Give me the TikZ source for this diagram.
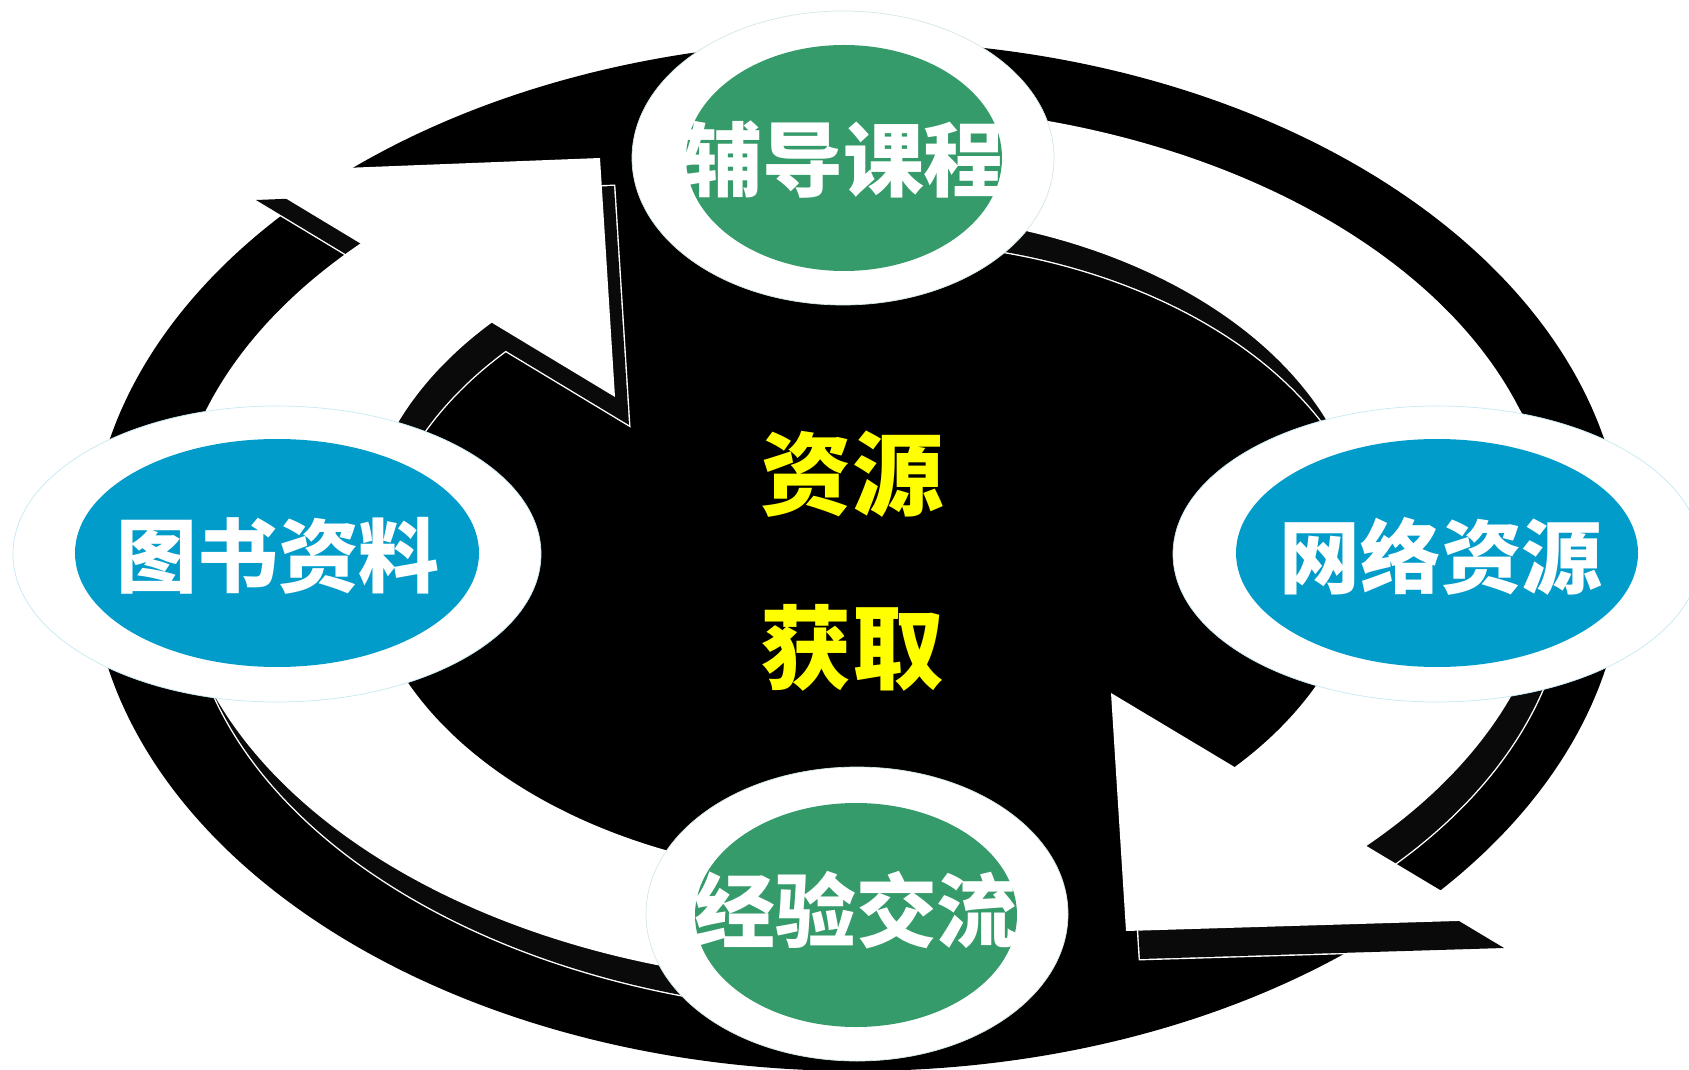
\documentclass[tikz,border=0pt]{standalone}
\usepackage{fontspec}
\newfontfamily\cjk{Noto Sans CJK SC}
\definecolor{ngreen}{HTML}{369B6A}
\definecolor{nblue}{HTML}{029CCB}
\definecolor{shade}{HTML}{0A0A0A}
\definecolor{tyellow}{HTML}{FFFF00}
\tikzset{
  shadowline/.style={draw=white, line width=1.6pt},
  shadowfill/.style={fill=shade},
  outerwhite/.style={fill=white, draw=#1!22, line width=0.4pt},
  innerfill/.style={fill=#1},
  nodetext/.style={font=\cjk\bfseries\fontsize{46}{50}\selectfont, text=white, inner sep=0pt},
  centertext/.style={font=\cjk\bfseries\fontsize{52}{56}\selectfont, text=tyellow, inner sep=0pt}
}
\begin{document}
\begin{tikzpicture}[x=0.02cm,y=-0.02cm]
\useasboundingbox (0,0) rectangle (1689,1070);
\fill[white] (0,0) rectangle (1689,1070);
% big black ellipse
\fill[black] (857,556) ellipse [x radius=767, y radius=515];

% ---- shadows of the two circular arrows ----
\begin{scope}[shift={(14,28)}]
  % outlines
  \begin{scope}
    \clip (863,545) -- (-397,-207) -- (-397,1600) -- (863,1600) -- cycle;
    \draw[shadowline] (863,545) ellipse [x radius=690, y radius=440];
    \draw[shadowline] (863,545) ellipse [x radius=500, y radius=332];
  \end{scope}
  \draw[shadowline] (600,158) -- (242,172) -- (615,397) -- cycle;
  \begin{scope}
    \clip (863,545) -- (2123,1297) -- (2123,-600) -- (863,-600) -- cycle;
    \draw[shadowline] (863,545) ellipse [x radius=690, y radius=440];
    \draw[shadowline] (863,545) ellipse [x radius=500, y radius=332];
  \end{scope}
  \draw[shadowline] (1126,931) -- (1490,920) -- (1111,693) -- cycle;
  % fills (ring slightly overlapping the heads to avoid seams)
  \begin{scope}
    \clip (864.5,542.4) -- (-395.5,-209.6) -- (-397,1600) -- (863,1600) -- cycle;
    \fill[shadowfill, even odd rule] (863,545) ellipse [x radius=690, y radius=440]
      (863,545) ellipse [x radius=500, y radius=332];
  \end{scope}
  \fill[shadowfill] (600,158) -- (242,172) -- (615,397) -- cycle;
  \begin{scope}
    \clip (861.5,547.6) -- (2121.5,1299.6) -- (2123,-600) -- (863,-600) -- cycle;
    \fill[shadowfill, even odd rule] (863,545) ellipse [x radius=690, y radius=440]
      (863,545) ellipse [x radius=500, y radius=332];
  \end{scope}
  \fill[shadowfill] (1126,931) -- (1490,920) -- (1111,693) -- cycle;
\end{scope}

% ---- white circular arrows ----
\begin{scope}
  \clip (864.5,542.4) -- (-395.5,-209.6) -- (-397,1600) -- (863,1600) -- cycle;
  \fill[white, even odd rule] (863,545) ellipse [x radius=690, y radius=440]
    (863,545) ellipse [x radius=500, y radius=332];
\end{scope}
\fill[white] (600,158) -- (242,172) -- (615,397) -- cycle;
\begin{scope}
  \clip (861.5,547.6) -- (2121.5,1299.6) -- (2123,-600) -- (863,-600) -- cycle;
  \fill[white, even odd rule] (863,545) ellipse [x radius=690, y radius=440]
    (863,545) ellipse [x radius=500, y radius=332];
\end{scope}
\fill[white] (1126,931) -- (1490,920) -- (1111,693) -- cycle;

% ---- four nodes ----
\path[outerwhite=ngreen] (843,158) ellipse [x radius=211, y radius=147];
\path[innerfill=ngreen] (844,158) ellipse [x radius=158, y radius=113];
\path[outerwhite=nblue] (277,554) ellipse [x radius=264, y radius=148];
\path[innerfill=nblue] (277,553) ellipse [x radius=202, y radius=114];
\path[outerwhite=nblue] (1437,554) ellipse [x radius=264, y radius=148];
\path[innerfill=nblue] (1437,553) ellipse [x radius=201, y radius=114];
\path[outerwhite=ngreen] (857,914) ellipse [x radius=211, y radius=147];
\path[innerfill=ngreen] (856,915) ellipse [x radius=161, y radius=112];

\node[nodetext] (top) at (843,160) {辅导课程};
\node[nodetext] (left) at (278,556) {图书资料};
\node[nodetext] (right) at (1441,556) {网络资源};
\node[nodetext] (bottom) at (856,910) {经验交流};

\node[centertext] (c1) at (852,474) {资源};
\node[centertext] (c2) at (852,648) {获取};
\end{tikzpicture}
\end{document}
